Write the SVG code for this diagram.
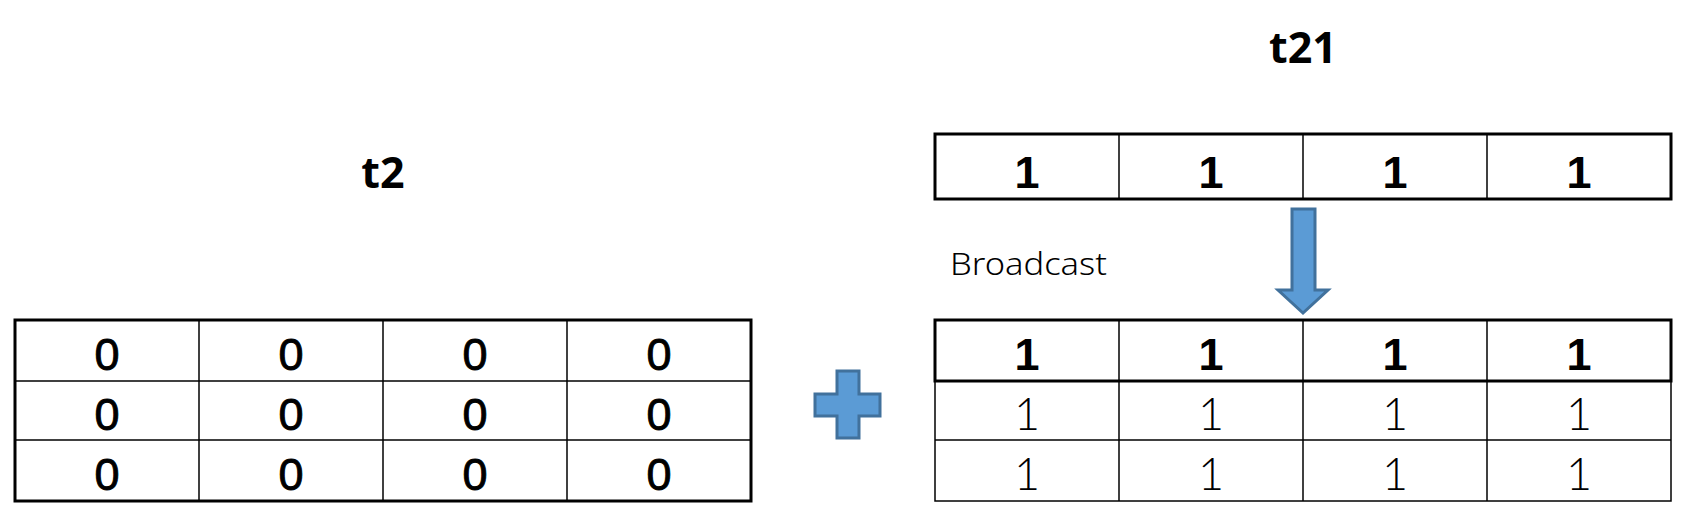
<svg xmlns="http://www.w3.org/2000/svg" width="1681" height="522" viewBox="0 0 1681 522">
<style>
.thin{stroke:#000;stroke-width:1.5;fill:none}
.thick{stroke:#000;stroke-width:3;fill:none}
.num{font-family:"Liberation Sans",Arial,sans-serif;font-size:45px;text-anchor:middle;fill:#000;stroke:#000;stroke-width:0.9}
.bold{font-family:"Liberation Sans",Arial,sans-serif;font-size:45px;font-weight:bold;text-anchor:middle;fill:#000}
.light{font-family:Lato,"Noto Sans",sans-serif;font-weight:300;font-size:45px;text-anchor:middle;fill:#000}
.title{font-family:"Noto Sans","Liberation Sans",sans-serif;font-weight:bold;font-size:43px;text-anchor:middle;fill:#000}
.shape{fill:#5B9BD5;stroke:#41719C;stroke-width:3}
</style>
<rect width="1681" height="522" fill="#fff"/>
<g id="t2-title"><text class="title" x="383" y="188">t2</text></g>
<g id="t21-title"><text class="title" x="1303" y="63">t21</text></g>
<g id="t2">
<rect x="15" y="320" width="736" height="181" fill="#fff" class="thick"/>
<line class="thin" x1="15" y1="381" x2="751" y2="381"/>
<line class="thin" x1="15" y1="440" x2="751" y2="440"/>
<line class="thin" x1="199" y1="320" x2="199" y2="501"/>
<line class="thin" x1="383" y1="320" x2="383" y2="501"/>
<line class="thin" x1="567" y1="320" x2="567" y2="501"/>
<text class="num" x="107" y="370">0</text><text class="num" x="291" y="370">0</text><text class="num" x="475" y="370">0</text><text class="num" x="659" y="370">0</text>
<text class="num" x="107" y="430">0</text><text class="num" x="291" y="430">0</text><text class="num" x="475" y="430">0</text><text class="num" x="659" y="430">0</text>
<text class="num" x="107" y="490">0</text><text class="num" x="291" y="490">0</text><text class="num" x="475" y="490">0</text><text class="num" x="659" y="490">0</text>
</g>
<g id="plus"><path class="shape" d="M837,371 H859 V394 H880 V416 H859 V438 H837 V416 H815 V394 H837 Z"/></g>
<g id="t21">
<rect x="935" y="134" width="736" height="65" fill="#fff" class="thick"/>
<line class="thin" x1="1119" y1="134" x2="1119" y2="199"/>
<line class="thin" x1="1303" y1="134" x2="1303" y2="199"/>
<line class="thin" x1="1487" y1="134" x2="1487" y2="199"/>
<text class="bold" x="1027" y="188">1</text><text class="bold" x="1211" y="188">1</text><text class="bold" x="1395" y="188">1</text><text class="bold" x="1579" y="188">1</text>
</g>
<g id="broadcast-label"><text x="950" y="275" font-family="'Noto Sans',Lato,sans-serif" font-weight="300" font-size="31" fill="#000" textLength="157" lengthAdjust="spacingAndGlyphs">Broadcast</text></g>
<g id="connectors"><path class="shape" d="M1292,209 H1315 V290 H1328 L1303,313 L1278,290 H1292 Z"/></g>
<g id="result">
<rect x="935" y="320" width="736" height="181" fill="#fff" class="thin"/>
<line class="thin" x1="935" y1="440" x2="1671" y2="440"/>
<line class="thin" x1="1119" y1="320" x2="1119" y2="501"/>
<line class="thin" x1="1303" y1="320" x2="1303" y2="501"/>
<line class="thin" x1="1487" y1="320" x2="1487" y2="501"/>
<rect x="935" y="320" width="736" height="61" class="thick"/>
<text class="bold" x="1027" y="370">1</text><text class="bold" x="1211" y="370">1</text><text class="bold" x="1395" y="370">1</text><text class="bold" x="1579" y="370">1</text>
<text class="light" x="1027" y="430">1</text><text class="light" x="1211" y="430">1</text><text class="light" x="1395" y="430">1</text><text class="light" x="1579" y="430">1</text>
<text class="light" x="1027" y="490">1</text><text class="light" x="1211" y="490">1</text><text class="light" x="1395" y="490">1</text><text class="light" x="1579" y="490">1</text>
</g>
</svg>
